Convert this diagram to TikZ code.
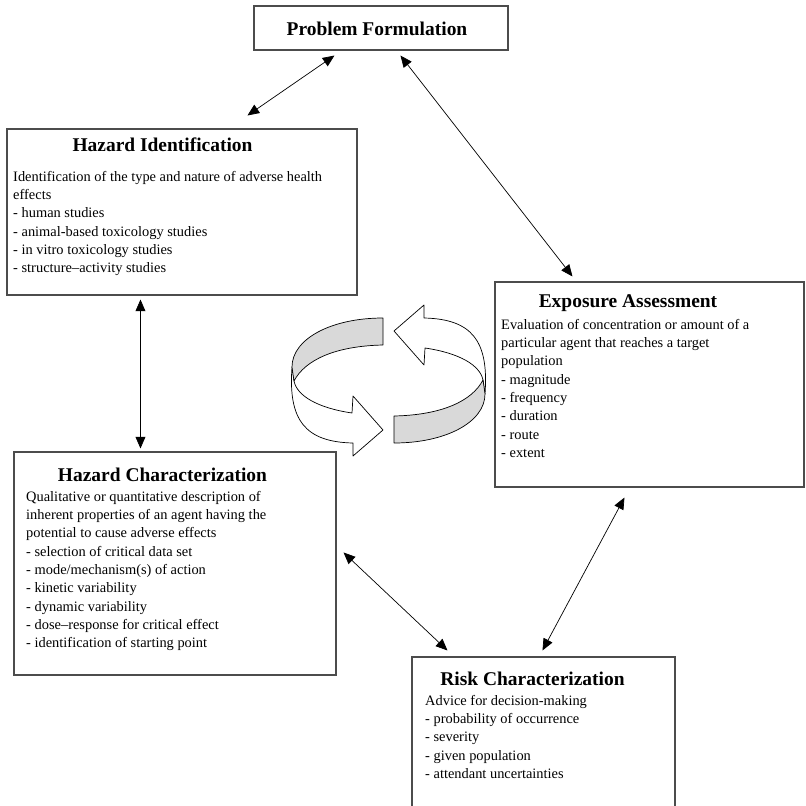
\documentclass[tikz,border=0pt]{standalone}
\usepackage{fontspec}
\setmainfont{Liberation Serif}
\usetikzlibrary{arrows.meta,calc,fit}

\tikzset{
  box/.style={draw=black!70, line width=0.9pt, inner sep=0pt},
  boxtitle/.style={font=\fontsize{16.6}{20}\selectfont\bfseries, inner sep=0pt, anchor=base},
  boxtext/.style={font=\fontsize{12.3}{15.6}\selectfont, align=left, inner sep=0pt, anchor=north west},
  link/.style={arrows={Triangle[length=10pt,width=8.5pt]-Triangle[length=10pt,width=8.5pt]}, line width=0.6pt},
  ribbon/.style={line width=0.6pt, line join=round},
}

\begin{document}
\begin{tikzpicture}[x=0.03cm, y=-0.03cm]
	\useasboundingbox (0,0) rectangle (806,805);

	%boxes
	\node[box, fit={(254,6) (508,50)}] (pf) {};
	\node[box, fit={(7,129) (357,295)}] (hi) {};
	\node[box, fit={(495,282) (804,487)}] (ea) {};
	\node[box, fit={(14,452) (336,675)}] (hc) {};
	\node[box, fit={(412,657) (675,840)}] (rc) {};

	%titles
	\node[boxtitle] (pf-title) at (377,35) {Problem Formulation};
	\node[boxtitle] (hi-title) at (162.5,151) {Hazard Identification};
	\node[boxtitle] (ea-title) at (628,307) {Exposure Assessment};
	\node[boxtitle] (hc-title) at (162.5,481) {Hazard Characterization};
	\node[boxtitle] (rc-title) at (532.5,685) {Risk Characterization};

	%texts
	\node[boxtext] (hi-text) at (13,171) {Identification of the type and nature of adverse health\\
		effects\\- human studies\\- animal-based toxicology studies\\
		- in vitro toxicology studies\\- structure–activity studies};
	\node[boxtext] (ea-text) at (501,319) {Evaluation of concentration or amount of a\\
		particular agent that reaches a target\\population\\- magnitude\\
		- frequency\\- duration\\- route\\- extent};
	\node[boxtext] (hc-text) at (26,491) {Qualitative or quantitative description of\\
		inherent properties of an agent having the\\potential to cause adverse effects\\
		- selection of critical data set\\- mode/mechanism(s) of action\\
		- kinetic variability\\- dynamic variability\\
		- dose–response for critical effect\\- identification of starting point};
	\node[boxtext] (rc-text) at (425,695) {Advice for decision-making\\
		- probability of occurrence\\- severity\\- given population\\
		- attendant uncertainties};

	%links
	\draw[link] ($(pf.south west)+(81,5)$) -- ($(hi.north west)+(241,-13)$);
	\draw[link] ($(pf.south west)+(147,5)$) -- ($(ea.north west)+(78,-5)$);
	\draw[link] ($(hi.south west)+(134,4)$) -- ($(hc.north west)+(127,-3)$);
	\draw[link] ($(hc.north east)+(7,101)$) -- ($(rc.north west)+(36,-6)$);
	\draw[link] ($(ea.south west)+(130,10)$) -- ($(rc.north west)+(131,-6)$);

	%cycle
	\foreach \r in {0,180} {
		\begin{scope}[rotate around={\r:(388.5,380.5)}]
			\draw[ribbon, fill=white] (292,367) .. controls (288,420) and (305,442) .. (353,443)
				-- (353,456) -- (383,430) -- (353,396) -- (352,413)
				.. controls (318,408) and (297,396) .. (294,381) -- cycle;
			\draw[ribbon, fill=black!15] (383,318) .. controls (331,318) and (292,339) .. (292,367)
				-- (294,381) .. controls (305,360) and (335,346) .. (383,345) -- cycle;
		\end{scope}
	}
\end{tikzpicture}
\end{document}
